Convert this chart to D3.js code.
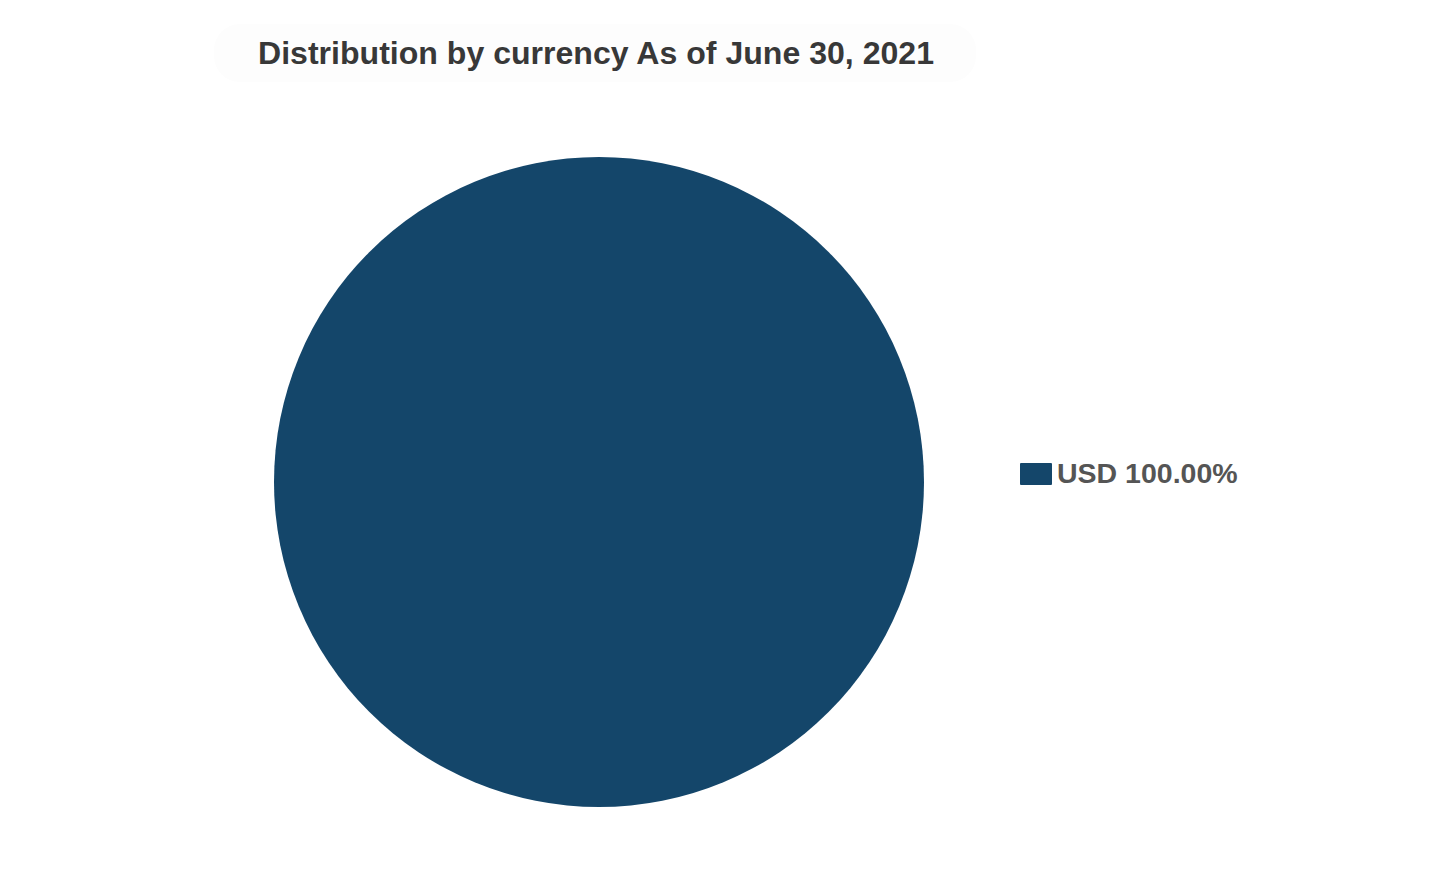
<!DOCTYPE html>
<html>
<head>
<meta charset="utf-8">
<script src="https://cdn.jsdelivr.net/npm/d3@7"></script>
<style>
  body { margin: 0; background: #fff; }
  svg { display: block; font-family: "Liberation Sans", Arial, sans-serif; }
</style>
</head>
<body>
<div id="grafico"></div>
<script>
// Datos del gráfico
const monedas = ["USD"];
const porcentajes = [100.00];
const colores = ["#14466a"];
const titulo = "Distribution by currency As of June 30, 2021";

const width = 1440;
const height = 873;

const svg = d3.select("#grafico")
    .append("svg")
    .attr("width", width)
    .attr("height", height);

// Caja suave del título
svg.append("rect")
    .attr("x", 214)
    .attr("y", 24)
    .attr("width", 762)
    .attr("height", 58)
    .attr("rx", 26)
    .attr("fill", "#fdfdfd");

svg.append("text")
    .attr("x", 596)
    .attr("y", 64)
    .attr("text-anchor", "middle")
    .attr("font-size", 31.5)
    .attr("font-weight", "bold")
    .attr("fill", "#383838")
    .attr("textLength", 676)
    .attr("lengthAdjust", "spacingAndGlyphs")
    .text(titulo);

// Pastel
const datos = monedas.map((m, i) => ({ moneda: m, valor: porcentajes[i] }));
const color = d3.scaleOrdinal().domain(monedas).range(colores);

const pie = d3.pie().value(d => d.valor).sort(null);
const arc = d3.arc().innerRadius(0).outerRadius(325);

svg.append("g")
    .attr("transform", "translate(599,482)")
    .selectAll("path")
    .data(pie(datos))
    .join("path")
    .attr("d", arc)
    .attr("fill", d => color(d.data.moneda));

// Leyenda
const leyenda = svg.append("g")
    .attr("transform", "translate(1020,463)")
    .selectAll("g")
    .data(datos)
    .join("g")
    .attr("transform", (d, i) => `translate(0,${i * 40})`);

leyenda.append("rect")
    .attr("width", 32)
    .attr("height", 22)
    .attr("rx", 1)
    .attr("fill", d => color(d.moneda));

leyenda.append("text")
    .attr("x", 37)
    .attr("y", 20)
    .attr("font-size", 28.5)
    .attr("font-weight", "bold")
    .attr("fill", "#555")
    .text(d => `${d.moneda} ${d.valor.toFixed(2)}%`);
</script>
</body>
</html>
